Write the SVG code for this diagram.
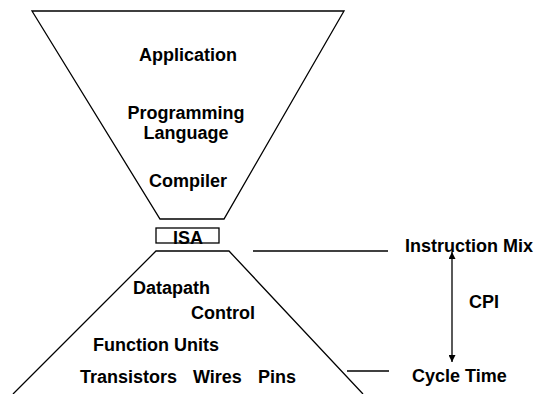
<svg xmlns="http://www.w3.org/2000/svg" width="539" height="394" viewBox="0 0 539 394">
  <style>
    .shape { fill: none; stroke: #000; stroke-width: 1.3; }
    .lbl { font-family: "Liberation Sans", Arial, sans-serif; font-weight: bold; font-size: 18px; fill: #000; }
    .mid { text-anchor: middle; }
    .conn { stroke: #000; stroke-width: 1.3; fill: none; }
  </style>
  <defs>
    <marker id="ah" viewBox="0 0 10 10" refX="10" refY="5" markerWidth="7" markerHeight="7" orient="auto-start-reverse" markerUnits="userSpaceOnUse">
      <path d="M0,0 L10,5 L0,10 Z" fill="#000"/>
    </marker>
  </defs>

  <rect width="539" height="394" fill="#fff"/>

  <!-- Software funnel -->
  <g id="software">
    <polygon class="shape" points="32,11 344,11 224,219 160,219"/>
    <text class="lbl mid" x="188" y="61">Application</text>
    <text class="lbl mid" x="186" y="119">Programming</text>
    <text class="lbl mid" x="186" y="139">Language</text>
    <text class="lbl mid" x="188" y="187">Compiler</text>
  </g>

  <!-- ISA -->
  <g id="isa">
    <rect class="shape" x="156" y="228" width="63" height="15"/>
    <text class="lbl mid" x="188" y="244">ISA</text>
  </g>

  <!-- Hardware pyramid -->
  <g id="hardware">
    <polyline class="shape" points="13,394 156,251 229,251 363,394"/>
    <text class="lbl" x="133" y="294">Datapath</text>
    <text class="lbl" x="191" y="319">Control</text>
    <text class="lbl" x="93" y="351">Function Units</text>
    <text class="lbl" x="80" y="383">Transistors</text>
    <text class="lbl" x="193" y="383">Wires</text>
    <text class="lbl" x="258" y="383">Pins</text>
  </g>

  <!-- Metric labels -->
  <g id="instruction-mix">
    <text class="lbl" x="405" y="252">Instruction Mix</text>
  </g>
  <g id="cpi">
    <text class="lbl" x="469" y="308">CPI</text>
  </g>
  <g id="cycle-time">
    <text class="lbl" x="412" y="382">Cycle Time</text>
  </g>

  <g id="connectors">
    <line class="conn" x1="253" y1="251" x2="388" y2="251"/>
    <line class="conn" x1="347" y1="371" x2="389" y2="371" stroke-width="2"/>
    <line class="conn" x1="452" y1="252" x2="452" y2="362" marker-start="url(#ah)" marker-end="url(#ah)"/>
  </g>
</svg>
